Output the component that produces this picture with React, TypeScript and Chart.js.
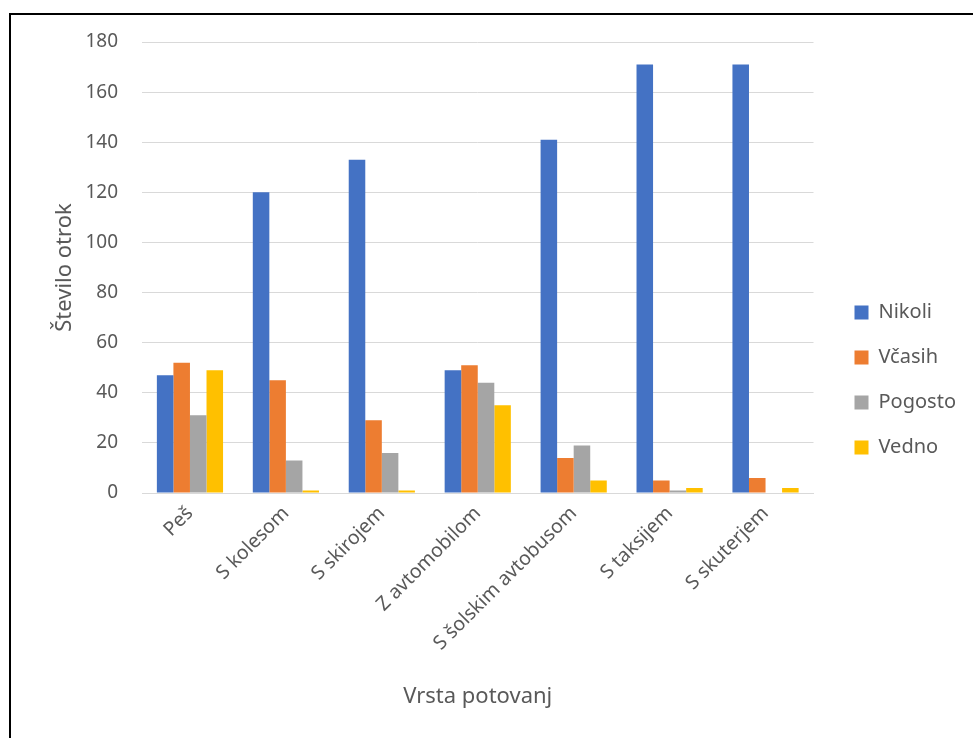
import React, { useEffect, useRef } from "react";
import { Chart, registerables } from "chart.js";

Chart.register(...registerables);

const categories = ["Peš", "S kolesom", "S skirojem", "Z avtomobilom", "S šolskim avtobusom", "S taksijem", "S skuterjem"];
const nikoli = [47, 120, 133, 49, 141, 171, 171];
const vcasih = [52, 45, 29, 51, 14, 5, 6];
const pogosto = [31, 13, 16, 44, 19, 1, 0];
const vedno = [49, 1, 1, 35, 5, 2, 2];
const yTicks = [0, 20, 40, 60, 80, 100, 120, 140, 160, 180];

const FONT = "'Noto Sans', sans-serif";
const TEXT = "#595959";

const legendShift = {
  id: "legendShift",
  afterLayout(chart: any) {
    const lg = chart.legend;
    if (!lg) return;
    const dx = chart.chartArea.right + 16 - lg.left;
    lg.left += dx;
    lg.right += dx;
    lg.top += 4;
    lg.bottom += 4;
  },
};

export default function App() {
  const ref = useRef<HTMLCanvasElement | null>(null);
  useEffect(() => {
    document.body.style.overflow = "hidden";
    const ctx = ref.current!;
    const chart = new Chart(ctx, {
      type: "bar",
      data: {
        labels: categories,
        datasets: [
          { label: "Nikoli", data: nikoli, backgroundColor: "#4472C4" },
          { label: "Včasih", data: vcasih, backgroundColor: "#ED7D31" },
          { label: "Pogosto", data: pogosto, backgroundColor: "#A5A5A5" },
          { label: "Vedno", data: vedno, backgroundColor: "#FFC000" },
        ],
      },
      plugins: [legendShift],
      options: {
        animation: false,
        responsive: true,
        maintainAspectRatio: false,
        datasets: { bar: { categoryPercentage: 0.69, barPercentage: 1 } },
        layout: { padding: { left: 10, right: 23, top: 42, bottom: 28 } },
        plugins: {
          legend: {
            position: "right",
            labels: {
              font: { family: FONT, size: 20 },
              color: TEXT,
              boxWidth: 14,
              boxHeight: 14,
              padding: 25,
            },
          },
          tooltip: { enabled: false },
        },
        scales: {
          x: {
            afterFit: (s: any) => {
              s.height = 217;
            },
            grid: { display: false, drawTicks: false },
            border: { color: "#d9d9d9", width: 1 },
            ticks: {
              font: { family: FONT, size: 19.5 },
              color: TEXT,
              minRotation: 45,
              maxRotation: 45,
              padding: 9,
            },
            title: {
              display: true,
              text: "Vrsta potovanj",
              font: { family: FONT, size: 22 },
              color: TEXT,
              padding: { top: 0, bottom: 0 },
            },
          },
          y: {
            min: 0,
            max: 180,
            afterFit: (s: any) => {
              s.width = 132;
            },
            afterBuildTicks: (s: any) => {
              s.ticks = yTicks.map((v) => ({ value: v }));
            },
            grid: { color: "#d9d9d9", drawTicks: false },
            border: { display: false },
            ticks: {
              font: { family: FONT, size: 19 },
              color: TEXT,
              padding: 24,
            },
            title: {
              display: true,
              text: "Število otrok",
              font: { family: FONT, size: 22 },
              color: TEXT,
              padding: { top: 42, bottom: 0 },
            },
          },
        },
      },
    });
    return () => chart.destroy();
  }, []);
  return (
    <div style={{ position: "fixed", left: 0, top: 0, width: 973, height: 738, overflow: "hidden", background: "#fff" }}>
      <div
        style={{
          position: "absolute",
          left: 9,
          top: 13,
          width: 1100,
          height: 900,
          borderTop: "2px solid #000",
          borderLeft: "2px solid #000",
        }}
      />
      <div style={{ position: "absolute", left: 0, top: 0, width: 973, height: 738 }}>
        <canvas ref={ref} />
      </div>
    </div>
  );
}
